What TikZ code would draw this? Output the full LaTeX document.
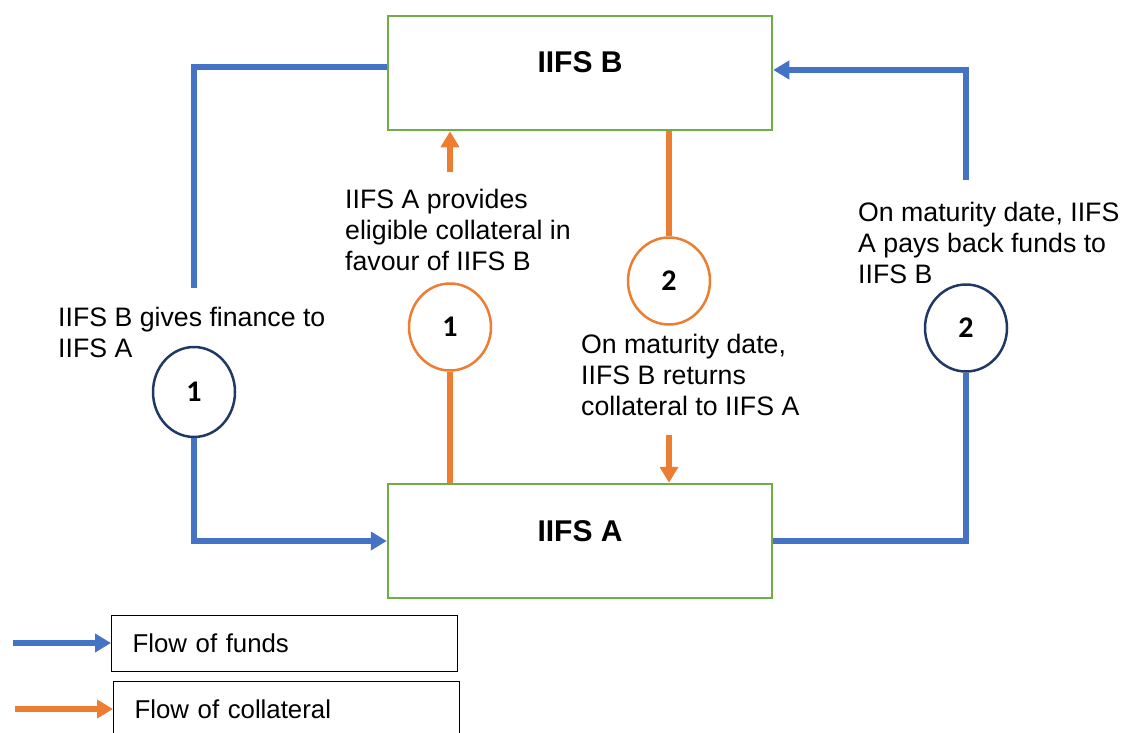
\documentclass[tikz,border=0pt]{standalone}
\usepackage{fontspec}
\setmainfont{Liberation Sans}
\newfontfamily\ringfont{Carlito}
\usetikzlibrary{arrows.meta,shapes.geometric,positioning}

\definecolor{fundblue}{HTML}{4472C4}
\definecolor{collorange}{HTML}{ED7D31}
\definecolor{boxgreen}{HTML}{70AD47}
\definecolor{ringnavy}{HTML}{203864}

\tikzset{
  party/.style={draw=boxgreen, line width=2.5pt, minimum width=384pt, minimum height=114pt,
    inner sep=0pt, text height=22pt, text depth=22pt, font=\fontsize{30}{34}\selectfont\bfseries},
  ring/.style={ellipse, line width=2.5pt, minimum width=82pt, minimum height=87pt, inner sep=0pt,
    fill=white, font=\ringfont\bfseries\fontsize{30}{34}\selectfont},
  fundring/.style={ring, draw=ringnavy},
  collring/.style={ring, draw=collorange},
  note/.style={anchor=north west, inner sep=0pt, align=left, font=\fontsize{26.7}{31}\selectfont},
  keybox/.style={draw, line width=1.2pt, anchor=north west, minimum height=56pt, inner xsep=21pt,
    text width=304pt, align=left, font=\fontsize{25.8}{29}\selectfont},
  fund/.style={draw=fundblue, line width=5.5pt},
  coll/.style={draw=collorange, line width=5.5pt},
  fundarrow/.style={fund, -{Triangle[length=16pt,width=18pt]}},
  collarrow/.style={coll, -{Triangle[length=16pt,width=18pt]}},
}

\begin{document}
\begin{tikzpicture}[x=1pt,y=-1pt]
    \useasboundingbox (0,0) rectangle (1121,733);

    % The two institutions
    \node[party] (iifsB) at (580,73) {IIFS B};
    \node[party] (iifsA) at (580,541) {IIFS A};

    % Numbered steps
    \node[fundring, minimum height=90pt] (fund1) at (194,392) {1};
    \node[fundring] (fund2) at (966,328) {2};
    \node[collring] (coll1) at (450,327) {1};
    \node[collring] (coll2) at (669,281) {2};

    % Step texts
    \node[note] (fund1txt) at (58,307) {IIFS B gives finance to\\IIFS A};
    \node[note] (coll1txt) at (345,189) {IIFS A provides\\eligible collateral in\\favour of IIFS B};
    \node[note] (coll2txt) at (581,334) {On maturity date,\\IIFS B returns\\collateral to IIFS A};
    \node[note] (fund2txt) at (858,202) {On maturity date, IIFS\\A pays back funds to\\IIFS B};

    % Free ends of the connectors
    \coordinate (fund1top) at (194,288);
    \coordinate (fund2top) at (966,180);
    \coordinate (coll1tail) at (450,172);
    \coordinate (coll2tail) at (669,435);

    % Flow of funds
    \draw[fund] ([yshift=6pt]iifsB.west) -| (fund1top);
    \draw[fundarrow] (fund1.south) |- (iifsA.west);
    \draw[fund] (iifsA.east) -| (fund2.south);
    \draw[fundarrow] (fund2top) |- ([yshift=3pt]iifsB.east);

    % Flow of collateral
    \draw[collarrow] (coll1tail) -- (coll1tail |- iifsB.south);
    \draw[coll] (coll1.south) -- (coll1.south |- iifsA.north);
    \draw[coll] (iifsB.south -| coll2) -- (coll2.north);
    \draw[collarrow] (coll2tail) -- (coll2tail |- iifsA.north);

    % Legend
    \node[keybox] (keyfunds) at (111,615) {Flow of funds};
    \node[keybox] (keycoll) at (113,681) {Flow of collateral};
    \coordinate (fundstail) at (13,643);
    \coordinate (colltail) at (15,709);
    \draw[fundarrow] (fundstail) -- (fundstail -| keyfunds.west);
    \draw[collarrow] (colltail) -- (colltail -| keycoll.west);

\end{tikzpicture}
\end{document}
